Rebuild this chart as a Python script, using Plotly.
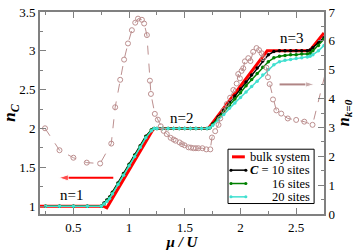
import plotly.graph_objects as go

# ---------------- data ----------------
mu_bulk = [0.2, 0.77, 0.8, 1.22, 1.71, 2.24, 2.62, 2.75]
n_bulk = [1.0, 1.0, 0.98, 2.0, 2.0, 3.0, 3.0, 3.23]

mu_c = [0.25, 0.375, 0.5, 0.625, 0.75, 0.775, 0.8, 0.825, 0.85, 0.9, 0.95, 1.0,
        1.05, 1.1, 1.15, 1.2, 1.225, 1.25, 1.3, 1.35, 1.4, 1.45, 1.5, 1.55, 1.6,
        1.65, 1.7, 1.725, 1.75, 1.8, 1.85, 1.9, 1.95, 2.0, 2.05, 2.1, 2.15, 2.2,
        2.25, 2.3, 2.35, 2.4, 2.45, 2.5, 2.55, 2.6, 2.625, 2.65, 2.7, 2.75]
n_c10 = [1, 1, 1, 1, 1, 1.04, 1.08, 1.12, 1.18, 1.30, 1.42, 1.54,
         1.66, 1.78, 1.90, 1.98, 2.0, 2, 2, 2, 2, 2, 2, 2, 2,
         2, 2, 2.01, 2.06, 2.15, 2.24, 2.33, 2.42, 2.51, 2.60, 2.69, 2.78, 2.87,
         2.95, 2.99, 3.0, 3.0, 3.0, 3.0, 3.0, 3.0, 3.01, 3.04, 3.10, 3.17]
n_c16 = [1, 1, 1, 1, 1, 1.03, 1.07, 1.11, 1.17, 1.29, 1.41, 1.53,
         1.65, 1.77, 1.89, 1.98, 2.0, 2, 2, 2, 2, 2, 2, 2, 2,
         2, 2, 2.01, 2.05, 2.13, 2.21, 2.30, 2.38, 2.46, 2.55, 2.63, 2.71, 2.79,
         2.86, 2.91, 2.93, 2.94, 2.95, 2.95, 2.96, 2.96, 2.97, 3.0, 3.07, 3.15]
n_c20 = [1, 1, 1, 1, 1, 1.03, 1.06, 1.10, 1.16, 1.28, 1.40, 1.52,
         1.64, 1.76, 1.88, 1.97, 2.0, 2, 2, 2, 2, 2, 2, 2, 2,
         2, 2, 2.01, 2.04, 2.11, 2.18, 2.26, 2.33, 2.40, 2.47, 2.54, 2.61, 2.69,
         2.76, 2.82, 2.86, 2.88, 2.89, 2.90, 2.91, 2.92, 2.93, 2.95, 3.0, 3.07]

mu_k = [0.245, 0.375, 0.5, 0.62, 0.74, 0.84, 0.875, 0.92, 0.955, 0.99, 1.025,
        1.055, 1.08, 1.115, 1.135, 1.16, 1.187, 1.196, 1.231, 1.258, 1.284,
        1.31, 1.338, 1.373, 1.4, 1.418, 1.453, 1.475, 1.498, 1.533, 1.555, 1.578,
        1.6, 1.622, 1.658, 1.693, 1.729, 1.744, 1.773, 1.803, 1.818, 1.847, 1.877,
        1.907, 1.936, 1.966, 1.98, 1.995, 2.01, 2.025, 2.04, 2.07, 2.09, 2.114,
        2.144, 2.167, 2.19, 2.203, 2.233, 2.247, 2.262, 2.292, 2.322, 2.366,
        2.425, 2.5, 2.573, 2.647, 2.8]
nk0 = [2.97, 2.21, 1.95, 1.78, 1.75, 2.44, 3.70, 4.65, 5.35, 5.91, 6.37,
       6.63, 6.77, 6.73, 6.60, 6.20, 4.62, 4.16, 3.47, 3.27, 3.04,
       2.88, 2.77, 2.64, 2.58, 2.54, 2.48, 2.42, 2.38, 2.31, 2.30, 2.28,
       2.28, 2.28, 2.28, 2.24, 2.24, 2.65, 2.87, 3.09, 3.31, 3.59, 3.81,
       4.03, 4.30, 4.52, 4.85, 4.70, 4.96, 5.05, 5.29, 5.40, 5.30, 5.62,
       5.75, 5.68, 5.57, 5.40, 5.07, 4.74, 4.50, 3.97, 3.59, 3.48,
       3.31, 3.26, 3.20, 3.09, 5.47]

# indicator arrows (tail -> head)
arrow_nc_x = [0.858, 0.369]
arrow_nc_y = [1.366, 1.366]
arrow_nk_x = [2.351, 2.662]
arrow_nk_y = [4.49, 4.49]

x_ticks = [0.5, 1, 1.5, 2, 2.5]
y_ticks = [1, 1.5, 2, 2.5, 3, 3.5]
y2_ticks = [0, 1, 2, 3, 4, 5, 6, 7]

FONT = "Liberation Serif, Times New Roman, Times, DejaVu Serif, serif"
PINK = "#bc8f8f"
GRAY = "#808080"

fig = go.Figure()
fig.add_trace(go.Scatter(x=mu_k, y=nk0, yaxis="y2", mode="lines+markers",
                         line=dict(color=PINK, width=1, dash="dash"),
                         marker=dict(symbol="circle-open", size=5, color=PINK,
                                     line=dict(width=1, color=PINK)),
                         showlegend=False))
fig.add_trace(go.Scatter(x=mu_bulk, y=n_bulk, mode="lines",
                         line=dict(color="#ff0000", width=3), showlegend=False))
for ys, col in [(n_c10, "#000000"), (n_c16, "#008000"), (n_c20, "#40e0d0")]:
    fig.add_trace(go.Scatter(x=mu_c, y=ys, mode="lines+markers",
                             line=dict(color=col, width=1.5),
                             marker=dict(size=3.5, color=col),
                             showlegend=False))
# arrows as traces
fig.add_trace(go.Scatter(x=arrow_nc_x, y=arrow_nc_y, mode="lines+markers",
                         line=dict(color="#ff0000", width=2),
                         marker=dict(symbol=["circle", "arrow"], size=[0, 10],
                                     angleref="previous", color="#ff0000"),
                         showlegend=False, hoverinfo="skip"))
fig.add_trace(go.Scatter(x=arrow_nk_x, y=arrow_nk_y, yaxis="y2", mode="lines+markers",
                         line=dict(color="#b08585", width=2),
                         marker=dict(symbol=["circle", "arrow"], size=[0, 9],
                                     angleref="previous", color="#b08585"),
                         showlegend=False, hoverinfo="skip"))

axis_common = dict(showline=True, linecolor=GRAY, linewidth=2, ticks="inside",
                   ticklen=6, tickcolor=GRAY, tickwidth=1, showgrid=False,
                   zeroline=False, ticklabeloverflow="allow",
                   tickfont=dict(family=FONT, size=13, color="black"))

fig.update_layout(
    width=354, height=250,
    margin=dict(l=38, r=29, t=5, b=33),
    paper_bgcolor="white", plot_bgcolor="white",
    showlegend=False,
    font=dict(family=FONT, color="black"),
    xaxis=dict(range=[0.2, 2.75], tickvals=x_ticks, ticktext=[str(v) for v in x_ticks],
               mirror="ticks",
               title=dict(text="<b><i>μ / U</i></b>", standoff=0,
                          font=dict(family=FONT, size=15, color="black")),
               minor=dict(dtick=0.25, tick0=0.25, ticks="inside", ticklen=3, tickcolor=GRAY),
               **axis_common),
    yaxis=dict(range=[0.9, 3.5], tickvals=y_ticks, ticktext=[str(v) for v in y_ticks],
               title=dict(text="<b><i>n</i></b><sub><b><i>C</i></b></sub>", standoff=2,
                          font=dict(family=FONT, size=17, color="black")),
               minor=dict(dtick=0.25, tick0=1, ticks="inside", ticklen=3, tickcolor=GRAY),
               **axis_common),
    yaxis2=dict(range=[0, 7], tickvals=y2_ticks, overlaying="y", side="right",
                title=dict(text="<b><i>n</i></b><sub><b><i>k=0</i></b></sub>", standoff=2,
                           font=dict(family=FONT, size=16, color="black")),
                minor=dict(dtick=0.5, tick0=0, ticks="inside", ticklen=3, tickcolor=GRAY),
                **axis_common),
)

ann = []
# plateau labels
for txt, xx, yy in [("n=1", 0.484, 1.145), ("n=2", 1.471, 2.14), ("n=3", 2.458, 3.16)]:
    ann.append(dict(text=txt, x=xx, y=yy, xref="x", yref="y", showarrow=False,
                    font=dict(family=FONT, size=15, color="black")))

# legend (manual, serif, right-aligned text)
def px2x(px):
    return (px - 38) / 287.0

def py2y(py):
    return (217 - py) / 212.0

shapes = [dict(type="rect", xref="paper", yref="paper", x0=px2x(228), x1=px2x(315),
               y0=py2y(206), y1=py2y(149), line=dict(color="black", width=1),
               fillcolor="white", layer="above")]
leg_rows = [("bulk system", "#ff0000", 157, False),
            ("<b><i>C</i></b> = 10 sites", "#000000", 171, True),
            ("16 sites", "#008000", 185, True),
            ("20 sites", "#40e0d0", 199, True)]
for txt, col, py, mk in leg_rows:
    if mk:
        shapes.append(dict(type="line", xref="paper", yref="paper", x0=px2x(231), x1=px2x(246),
                           y0=py2y(py), y1=py2y(py), line=dict(color=col, width=1.5), layer="above"))
        for cx in (231, 246):
            shapes.append(dict(type="circle", xref="paper", yref="paper",
                               x0=px2x(cx - 1.6), x1=px2x(cx + 1.6),
                               y0=py2y(py + 1.6), y1=py2y(py - 1.6),
                               fillcolor=col, line=dict(color=col, width=0), layer="above"))
    else:
        shapes.append(dict(type="line", xref="paper", yref="paper", x0=px2x(232), x1=px2x(245),
                           y0=py2y(py), y1=py2y(py), line=dict(color=col, width=3), layer="above"))
    ann.append(dict(text=txt, xref="paper", yref="paper", x=px2x(313), y=py2y(py),
                    xanchor="right", yanchor="middle", showarrow=False,
                    font=dict(family=FONT, size=12.5, color="black")))

fig.update_layout(annotations=ann, shapes=shapes)
fig.write_html("out.html", config={"displayModeBar": False},
               post_script="document.body.style.margin='0';document.body.style.padding='0';")
